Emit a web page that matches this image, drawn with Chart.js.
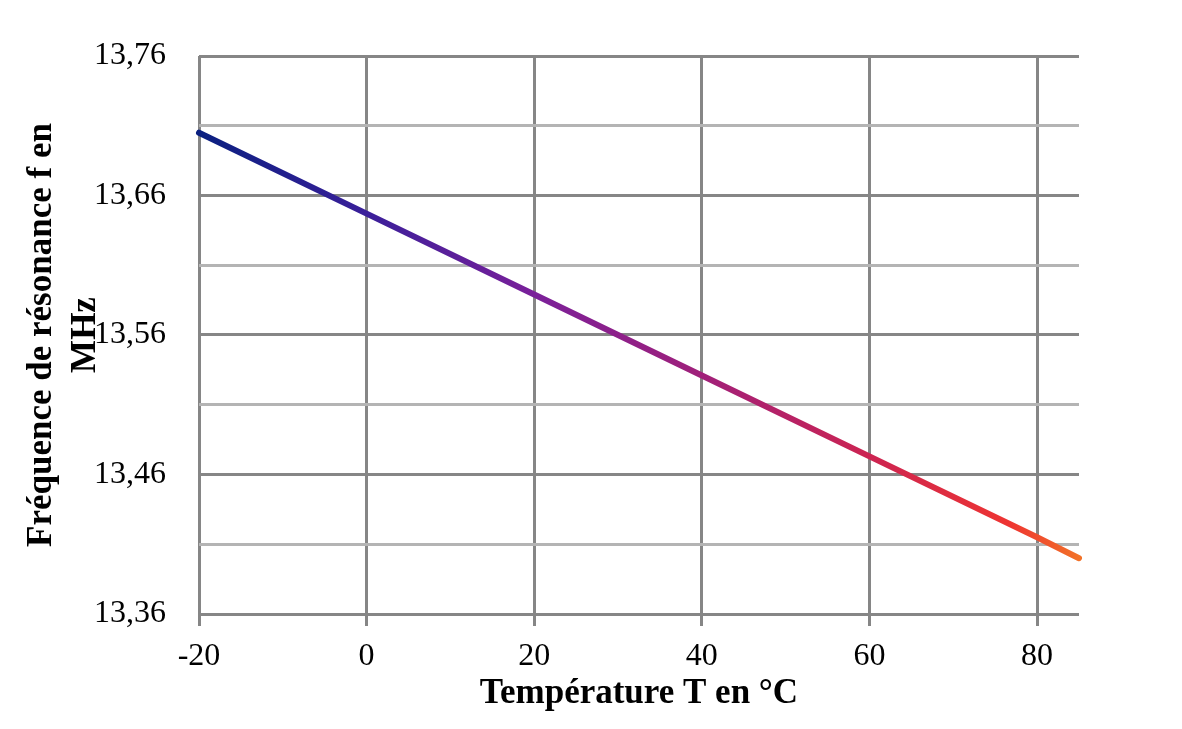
<!DOCTYPE html>
<html>
<head>
<meta charset="utf-8">
<script src="https://cdn.jsdelivr.net/npm/chart.js@4"></script>
<style>
  html, body { margin: 0; padding: 0; background: #fff; }
  #wrap { width: 1182px; height: 729px; }
</style>
</head>
<body>
<div id="wrap"><canvas id="chart" width="1182" height="729"></canvas></div>
<script>
// data
var temperatures = [-20, 0, 20, 40, 60, 80, 85];
var frequencies = [13.705, 13.647, 13.589, 13.531, 13.473, 13.415, 13.400];
var xTicks = [-20, 0, 20, 40, 60, 80];
var yTicks = [13.36, 13.41, 13.46, 13.51, 13.56, 13.61, 13.66, 13.71, 13.76];
var yLabels = ['13,36', '', '13,46', '', '13,56', '', '13,66', '', '13,76'];

var points = temperatures.map(function(t, i) { return { x: t, y: frequencies[i] }; });

var serif = "'Liberation Serif', 'DejaVu Serif', serif";

// horizontal colour ramp, dark blue -> orange
function lineGradient(context) {
    var chart = context.chart;
    var area = chart.chartArea;
    if (!area) return '#0a2080';
    var g = chart.ctx.createLinearGradient(area.left, 0, area.right, 0);
    g.addColorStop(0, '#0a2080');
    g.addColorStop(0.19, '#3a1f9a');
    g.addColorStop(0.38, '#7a209a');
    g.addColorStop(0.57, '#a0207a');
    g.addColorStop(0.76, '#cc2452');
    g.addColorStop(0.92, '#ee3432');
    g.addColorStop(1, '#f27228');
    return g;
}

var ctx = document.getElementById('chart').getContext('2d');
new Chart(ctx, {
    type: 'scatter',
    data: {
        datasets: [{
            data: points,
            showLine: true,
            borderColor: lineGradient,
            borderWidth: 6,
            borderCapStyle: 'round',
            pointRadius: 0,
            pointHoverRadius: 0,
            tension: 0,
            clip: 5
        }]
    },
    options: {
        responsive: false,
        animation: false,
        events: [],
        layout: { padding: { top: 56, right: 103, bottom: 0, left: 0 } },
        plugins: {
            legend: { display: false },
            tooltip: { enabled: false }
        },
        scales: {
            x: {
                type: 'linear',
                min: -20,
                max: 85,
                afterBuildTicks: function(scale) {
                    scale.ticks = xTicks.map(function(v) { return { value: v }; });
                },
                afterFit: function(scale) { scale.height = 115; },
                border: { display: false },
                grid: {
                    color: '#868686',
                    lineWidth: 3,
                    drawTicks: true,
                    tickLength: 12
                },
                ticks: {
                    color: '#000',
                    padding: 11,
                    maxRotation: 0,
                    font: { family: serif, size: 32 },
                    callback: function(v) { return String(v); }
                },
                title: {
                    display: true,
                    text: 'Température T en °C',
                    color: '#000',
                    padding: { top: 0, bottom: 14 },
                    font: { family: serif, size: 35, weight: 'bold' }
                }
            },
            y: {
                type: 'linear',
                min: 13.36,
                max: 13.76,
                afterBuildTicks: function(scale) {
                    scale.ticks = yTicks.map(function(v) { return { value: v }; });
                },
                afterFit: function(scale) { scale.width = 199; },
                border: { display: false },
                grid: {
                    drawTicks: false,
                    lineWidth: 3,
                    color: function(c) {
                        return c.index % 2 === 0 ? '#868686' : '#b4b4b4';
                    }
                },
                ticks: {
                    color: '#000',
                    padding: 33,
                    font: { family: serif, size: 32 },
                    callback: function(v, i) { return yLabels[i]; }
                },
                title: {
                    display: true,
                    text: ['Fréquence de résonance f en', 'MHz'],
                    color: '#000',
                    padding: { top: 20, bottom: 0 },
                    font: { family: serif, size: 35, weight: 'bold', lineHeight: 1.25 }
                }
            }
        }
    }
});
</script>
</body>
</html>
